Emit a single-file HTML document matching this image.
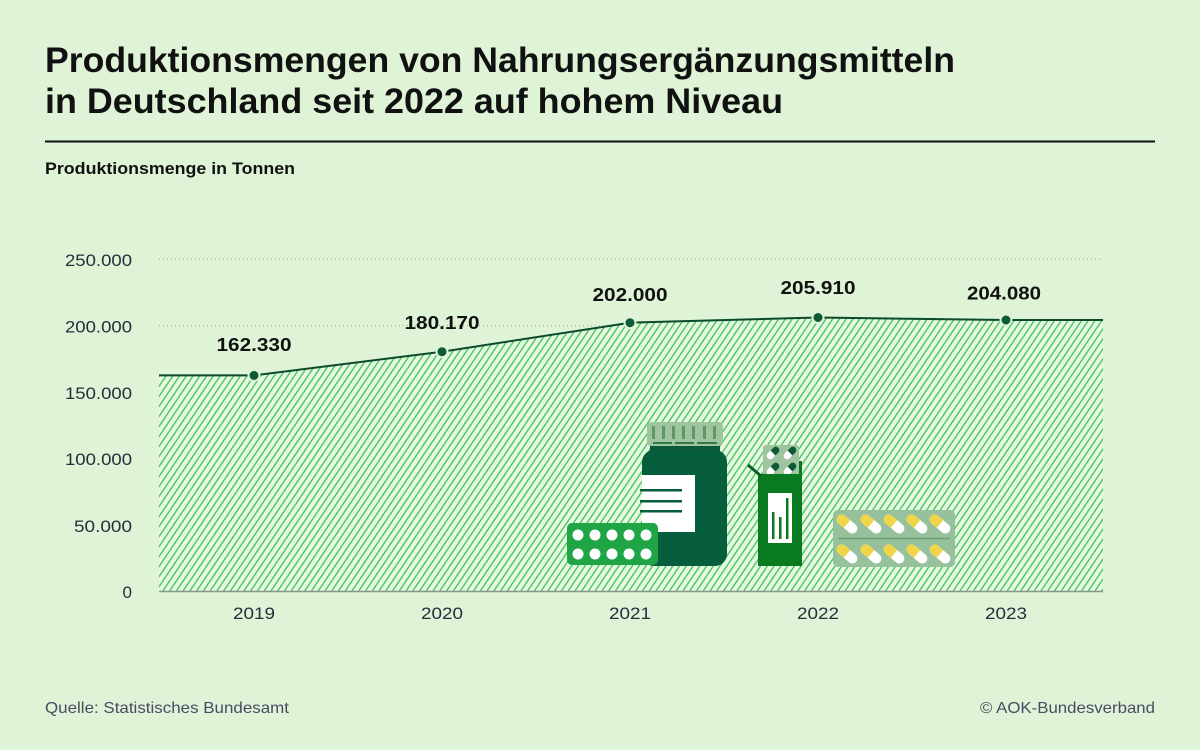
<!DOCTYPE html>
<html>
<head>
<meta charset="utf-8">
<style>
  html,body{margin:0;padding:0;background:#dff4d7;}
  svg{display:block;}
  text{font-family:"Liberation Sans", "DejaVu Sans", sans-serif;}
</style>
</head>
<body>
<svg width="1200" height="750" viewBox="0 0 1200 750" xmlns="http://www.w3.org/2000/svg">
  <defs>
    <pattern id="hatch" patternUnits="userSpaceOnUse" width="5.6" height="20" patternTransform="rotate(34)">
      <rect x="0" y="0" width="1.35" height="20" fill="#46c55b"/>
    </pattern>
    <g id="capY">
      <rect x="-12" y="-5" width="24" height="10" rx="5" fill="#ffffff"/>
      <path d="M0,-5 L-7,-5 A5,5 0 0 0 -7,5 L0,5 Z" fill="#f1d548"/>
    </g>
    <g id="capD">
      <rect x="-7.5" y="-3.5" width="15" height="7" rx="3.5" fill="#ffffff"/>
      <path d="M0,-3.5 L4,-3.5 A3.5,3.5 0 0 1 4,3.5 L0,3.5 Z" fill="#0c5a34"/>
    </g>
  </defs>

  <rect width="1200" height="750" fill="#dff4d7"/>

  <!-- Title -->
  <text x="45" y="72" font-size="35" font-weight="700" fill="#111" textLength="910" lengthAdjust="spacingAndGlyphs">Produktionsmengen von Nahrungsergänzungsmitteln</text>
  <text x="45" y="113" font-size="35" font-weight="700" fill="#111" textLength="738" lengthAdjust="spacingAndGlyphs">in Deutschland seit 2022 auf hohem Niveau</text>
  <rect x="45" y="140.5" width="1110" height="2" fill="#111"/>
  <text x="45" y="174" font-size="16.5" font-weight="700" fill="#111" textLength="250" lengthAdjust="spacingAndGlyphs">Produktionsmenge in Tonnen</text>

  <!-- gridlines -->
  <line x1="159" y1="259" x2="1103" y2="259" stroke="#8fb08f" stroke-width="1" stroke-dasharray="1,3"/>
  <line x1="159" y1="325.6" x2="1103" y2="325.6" stroke="#8fb08f" stroke-width="1" stroke-dasharray="1,3"/>

  <!-- y labels -->
  <g font-size="17" fill="#2b2b3f" text-anchor="end">
    <text x="132" y="266" textLength="67" lengthAdjust="spacingAndGlyphs">250.000</text>
    <text x="132" y="332.5" textLength="67" lengthAdjust="spacingAndGlyphs">200.000</text>
    <text x="132" y="399" textLength="67" lengthAdjust="spacingAndGlyphs">150.000</text>
    <text x="132" y="465" textLength="67" lengthAdjust="spacingAndGlyphs">100.000</text>
    <text x="132" y="532" textLength="58" lengthAdjust="spacingAndGlyphs">50.000</text>
    <text x="132" y="598">0</text>
  </g>

  <!-- area -->
  <path d="M159,591 L159,375.4 L254,375.4 L442,351.7 L630,322.7 L818,317.5 L1006,320 L1103,320 L1103,591 Z" fill="#e6f7e2"/>
  <path d="M159,591 L159,375.4 L254,375.4 L442,351.7 L630,322.7 L818,317.5 L1006,320 L1103,320 L1103,591 Z" fill="url(#hatch)"/>
  <line x1="159" y1="591.5" x2="1103" y2="591.5" stroke="#8a968a" stroke-width="1.5"/>

  <!-- line -->
  <path d="M159,375.4 L254,375.4 L442,351.7 L630,322.7 L818,317.5 L1006,320 L1103,320" fill="none" stroke="#0b4a2b" stroke-width="2"/>
  <g fill="#0d5a37" stroke="#dff4d7" stroke-width="2">
    <circle cx="254" cy="375.4" r="5.5"/>
    <circle cx="442" cy="351.7" r="5.5"/>
    <circle cx="630" cy="322.7" r="5.5"/>
    <circle cx="818" cy="317.5" r="5.5"/>
    <circle cx="1006" cy="320" r="5.5"/>
  </g>

  <!-- value labels -->
  <g font-size="18" font-weight="700" fill="#111" text-anchor="middle">
    <text x="254" y="351" textLength="75" lengthAdjust="spacingAndGlyphs">162.330</text>
    <text x="442" y="329" textLength="75" lengthAdjust="spacingAndGlyphs">180.170</text>
    <text x="630" y="301" textLength="75" lengthAdjust="spacingAndGlyphs">202.000</text>
    <text x="818" y="294" textLength="75" lengthAdjust="spacingAndGlyphs">205.910</text>
    <text x="1004" y="299.5" textLength="74" lengthAdjust="spacingAndGlyphs">204.080</text>
  </g>

  <!-- x labels -->
  <g font-size="17" fill="#2b2b3f" text-anchor="middle">
    <text x="254" y="619" textLength="42" lengthAdjust="spacingAndGlyphs">2019</text>
    <text x="442" y="619" textLength="42" lengthAdjust="spacingAndGlyphs">2020</text>
    <text x="630" y="619" textLength="42" lengthAdjust="spacingAndGlyphs">2021</text>
    <text x="818" y="619" textLength="42" lengthAdjust="spacingAndGlyphs">2022</text>
    <text x="1006" y="619" textLength="42" lengthAdjust="spacingAndGlyphs">2023</text>
  </g>

  <!-- Illustration: bottle -->
  <rect x="650" y="443" width="70" height="10" fill="#0a5a3a"/>
  <rect x="642" y="450" width="85" height="116" rx="12" fill="#065e3c"/>
  <rect x="647" y="422" width="76" height="24" rx="4" fill="#9fc49f"/>
  <g fill="#5e9863">
    <rect x="652" y="426" width="3" height="13"/>
    <rect x="662" y="426" width="3" height="13"/>
    <rect x="672" y="426" width="3" height="13"/>
    <rect x="682" y="426" width="3" height="13"/>
    <rect x="692" y="426" width="3" height="13"/>
    <rect x="703" y="426" width="3" height="13"/>
    <rect x="713" y="426" width="3" height="13"/>
  </g>
  <g fill="#2f7a48">
    <rect x="653" y="442" width="19" height="2"/>
    <rect x="675" y="442" width="19" height="2"/>
    <rect x="697" y="442" width="20" height="2"/>
  </g>
  <rect x="642" y="475" width="53" height="57" fill="#ffffff"/>
  <g fill="#065e3c">
    <rect x="640" y="489" width="42" height="2.5"/>
    <rect x="640" y="500" width="42" height="2.5"/>
    <rect x="640" y="510" width="42" height="2.5"/>
  </g>

  <!-- blister strip -->
  <rect x="567" y="523" width="91" height="42" rx="5" fill="#1fa545"/>
  <g fill="#ffffff">
    <circle cx="578" cy="535" r="5.5"/><circle cx="595" cy="535" r="5.5"/><circle cx="612" cy="535" r="5.5"/><circle cx="629" cy="535" r="5.5"/><circle cx="646" cy="535" r="5.5"/>
    <circle cx="578" cy="554" r="5.5"/><circle cx="595" cy="554" r="5.5"/><circle cx="612" cy="554" r="5.5"/><circle cx="629" cy="554" r="5.5"/><circle cx="646" cy="554" r="5.5"/>
  </g>

  <!-- box -->
  <rect x="796" y="461" width="6" height="15" fill="#0a7a20"/>
  <rect x="763" y="445" width="36" height="32" rx="3" fill="#9fc49f"/>
  <use href="#capD" transform="translate(773,453) rotate(-45)"/>
  <use href="#capD" transform="translate(790,453) rotate(-45)"/>
  <use href="#capD" transform="translate(773,469) rotate(-45)"/>
  <use href="#capD" transform="translate(790,469) rotate(-45)"/>
  <rect x="758" y="474" width="44" height="92" fill="#0a7a20"/>
  <line x1="748" y1="465" x2="761" y2="476" stroke="#0a5e2a" stroke-width="3"/>
  <rect x="768" y="493" width="24" height="50" fill="#ffffff"/>
  <g fill="#0a7a20">
    <rect x="772" y="512" width="2.5" height="27"/>
    <rect x="779" y="517" width="2.5" height="22"/>
    <rect x="786" y="498" width="2.5" height="41"/>
  </g>

  <!-- pill tray -->
  <rect x="833" y="510" width="122" height="57" rx="5" fill="#97c19c"/>
  <line x1="838" y1="538.5" x2="950" y2="538.5" stroke="#6f9f77" stroke-width="1.5"/>
  <use href="#capY" transform="translate(847,524) rotate(40)"/>
  <use href="#capY" transform="translate(871,524) rotate(40)"/>
  <use href="#capY" transform="translate(894,524) rotate(40)"/>
  <use href="#capY" transform="translate(917,524) rotate(40)"/>
  <use href="#capY" transform="translate(940,524) rotate(40)"/>
  <use href="#capY" transform="translate(847,554) rotate(40)"/>
  <use href="#capY" transform="translate(871,554) rotate(40)"/>
  <use href="#capY" transform="translate(894,554) rotate(40)"/>
  <use href="#capY" transform="translate(917,554) rotate(40)"/>
  <use href="#capY" transform="translate(940,554) rotate(40)"/>

  <!-- footer -->
  <text x="45" y="713" font-size="16" fill="#4a4a62" textLength="244" lengthAdjust="spacingAndGlyphs">Quelle: Statistisches Bundesamt</text>
  <text x="1155" y="713" font-size="16" fill="#4a4a62" text-anchor="end" textLength="175" lengthAdjust="spacingAndGlyphs">© AOK-Bundesverband</text>
</svg>
</body>
</html>
